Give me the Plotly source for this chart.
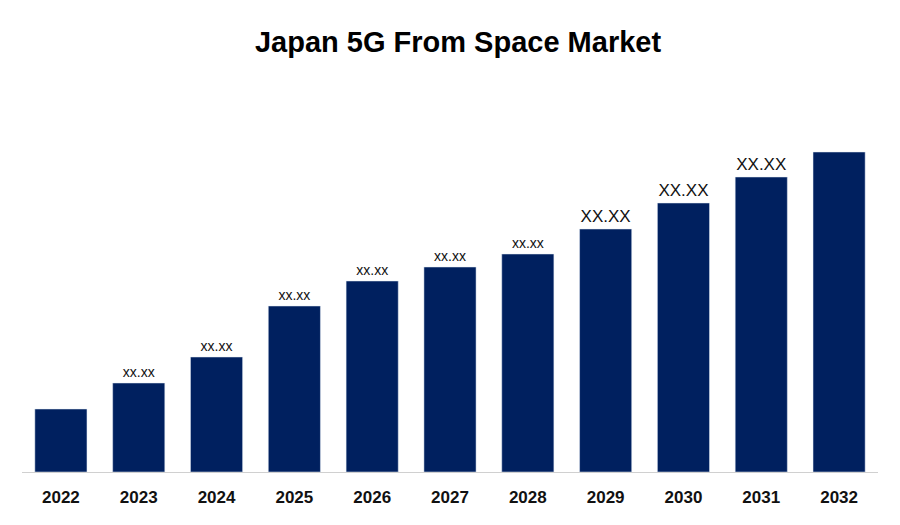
import plotly.graph_objects as go

years = ["2022", "2023", "2024", "2025", "2026", "2027", "2028", "2029", "2030", "2031", "2032"]
values = [63, 89, 115, 166, 191, 205, 218, 243, 269, 295, 320]
labels = ["", "xx.xx", "xx.xx", "xx.xx", "xx.xx", "xx.xx", "xx.xx", "XX.XX", "XX.XX", "XX.XX", ""]
label_sizes = [14, 14, 14, 14, 14, 14, 14, 17, 17, 17, 14]

fig = go.Figure(go.Bar(
    x=years,
    y=values,
    text=labels,
    textposition="outside",
    textfont=dict(size=label_sizes, color="#111111", family="Liberation Sans, Arial"),
    marker_color="#00205f",
    cliponaxis=False,
))

fig.update_layout(
    title=dict(
        text="<b>Japan 5G From Space Market</b>",
        x=0.5, y=0.955, xanchor="center",
        font=dict(size=29, color="#000000", family="Liberation Sans, Arial"),
    ),
    width=900, height=525,
    paper_bgcolor="white",
    plot_bgcolor="white",
    margin=dict(l=14, r=30, t=110, b=61),
    bargap=0.33,
    showlegend=False,
    xaxis=dict(
        showline=True, linecolor="#d0d0d0", linewidth=1,
        tickfont=dict(size=17, color="#111111", family="Liberation Sans, Arial", weight="bold"),
        ticks="outside", ticklen=10, tickcolor="white",
    ),
    yaxis=dict(visible=False, range=[0, 354]),
)

fig.write_html("out.html")
